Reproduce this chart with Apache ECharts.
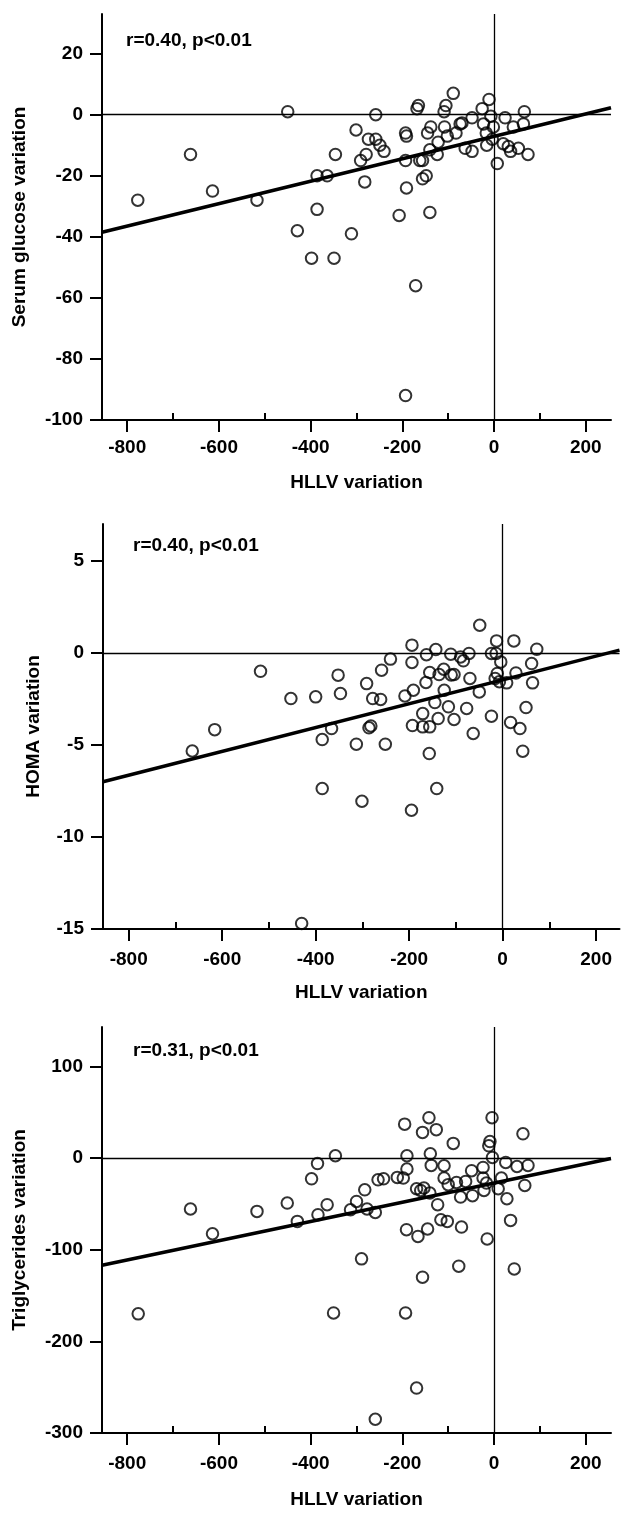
<!DOCTYPE html>
<html><head><meta charset="utf-8">
<script src="https://cdn.jsdelivr.net/npm/echarts@6/dist/echarts.min.js"></script>
<style>html,body{margin:0;padding:0;background:#fff}#c{width:626px;height:1513px}</style>
</head><body><div id="c"></div>
<script>
// ---- Data ----
const xTicks = [-800, -600, -400, -200, 0, 200];
const xMinorTicks = [-700, -500, -300, -100, 100];
const glucoseTicks = [20, 0, -20, -40, -60, -80, -100];
const homaTicks = [5, 0, -5, -10, -15];
const tgTicks = [100, 0, -100, -200, -300];

const hllvGlucose = [-777,-662,-614,-517,-450,-429,-386,-386,-364,-346,-311,-301,-291,-282,-279,-274,-258,-258,-249,-240,-207,-193,-191,-191,-193,-168,-165,-162,-156,-156,-148,-145,-140,-138,-140,-124,-122,-109,-108,-105,-102,-89,-83,-74,-70,-63,-48,-48,-26,-23,-17,-16,-11,-7,-4,-1.5,7,24,20,31,36,42,53,64,66,74,-398,-349,-171,-193];
const glucoseVar = [-28,-13,-25,-28,1,-38,-31,-20,-20,-13,-39,-5,-15,-22,-13,-8,0,-8,-10,-12,-33,-6,-7,-24,-15,2,3,-15,-15,-21,-20,-6,-32,-4,-11.5,-13,-9,1,-4,3,-7,7,-6,-3,-2.7,-11,-12,-1,2,-3,-6,-10,5,-0.5,-8,-4,-16,-1,-9.5,-10.4,-12,-4,-11,-3,1,-13,-47,-47,-56,-92];

const hllvHoma = [-49,-194,-13,24,73,-240,-194,-163,-143,-111,-90,-84,-72,-24,-14,-4,62,-518,-259,-156,-126,-136,-104,-110,-70,-11.5,-7,8.6,28.5,64,-16,-352,-291,-164,-125,-50,-453,-400,-347,-278,-261,-209,-191,-145,-116,-77,50,-171,-138,-104,-24,-193,-171,-156,17,37,-63,-282,-286,-366,-616,-664,-386,-313,-251,43,-157,-386,-141,-301,-195,-430];
const homaVar = [1.5,0.42,0.65,0.65,0.2,-0.34,-0.52,-0.1,0.18,-0.07,-0.22,-0.43,-0.03,-0.03,-0.03,-0.49,-0.58,-1.0,-0.94,-1.07,-0.89,-1.18,-1.18,-1.2,-1.39,-1.12,-1.57,-1.63,-1.09,-1.63,-1.39,-1.21,-1.67,-1.61,-2.03,-2.12,-2.48,-2.39,-2.21,-2.48,-2.53,-2.34,-2.03,-2.7,-2.93,-3.02,-2.97,-3.3,-3.57,-3.62,-3.44,-3.95,-4.02,-4.02,-3.78,-4.11,-4.38,-3.97,-4.07,-4.11,-4.17,-5.33,-4.71,-4.96,-4.96,-5.34,-5.47,-7.37,-7.37,-8.06,-8.55,-14.7];

const hllvTg = [-195,-142,-156,-126,-89,-4.4,63,-9,-11.5,-346,-385,-398,-190,-190,-139,-137,-109,-109,-100,-82,-62,-49,-24,-24,-3.5,-16.6,-22,16,25.5,50,74,67,9,28,36,-15,-71,-47,-73,-123,-116,-102,-145,-166,-191,-140,-153,-169,-160,-211,-198,-253,-241,-282,-300,-313,-277,-259,-364,-384,-429,-451,-517,-662,-614,-289,-77,44,-156,-776,-350,-193,-169,-259];
const tgVar = [37,44,28,31,16,44,26.5,18,13.4,2.5,-6,-22.6,2.5,-12,4.7,-8,-8.4,-21.8,-29,-26.6,-25.5,-13.8,-10.2,-21.8,0.7,-27.3,-35.3,-21.8,-4.8,-9.2,-8.1,-29.9,-33.5,-44.4,-68,-88.3,-75.3,-41.1,-42.6,-50.9,-67.3,-69.1,-77.4,-85.5,-78.2,-38.2,-32.7,-33.5,-35.3,-21.1,-21.8,-23.7,-22.6,-34.6,-47.3,-56.4,-55.6,-59.3,-50.9,-61.8,-69.1,-49.1,-58.2,-55.6,-82.6,-110,-118,-121,-130,-170,-169,-169,-251,-285];

// regression lines (endpoints)
const glucoseFitX = [-855, 255], glucoseFitY = [-38.5, 2.3];
const homaFitX = [-855, 250], homaFitY = [-7.0, 0.15];
const tgFitX = [-855, 255], tgFitY = [-117, -0.5];

const statLabels = ['r=0.40, p<0.01', 'r=0.40, p<0.01', 'r=0.31, p<0.01'];
const yNames = ['Serum glucose variation', 'HOMA variation', 'Triglycerides variation'];
const xName = 'HLLV variation';

// ---- Layout ----
const F = '"Liberation Sans", Arial, Helvetica, sans-serif';
const panels = [
  {grid:{left:102, top:14, width:509, height:406}, xmin:-855, xmax:255, ymin:-100, ymax:33, yTicks:glucoseTicks,
   xs:hllvGlucose, ys:glucoseVar, fx:glucoseFitX, fy:glucoseFitY, xm:18, xg:53, yg:73, lab:[126,41]},
  {grid:{left:103, top:524, width:516.5, height:405}, xmin:-855, xmax:250, ymin:-15, ymax:7, yTicks:homaTicks,
   xs:hllvHoma, ys:homaVar, fx:homaFitX, fy:homaFitY, xm:21, xg:54, yg:60, lab:[133,546]},
  {grid:{left:102, top:1027, width:509, height:406}, xmin:-855, xmax:255, ymin:-300, ymax:143, yTicks:tgTicks,
   xs:hllvTg, ys:tgVar, fx:tgFitX, fy:tgFitY, xm:21, xg:57, yg:73, lab:[133,1051]}
];

const black = '#000';
const txt = {color:black, fontSize:19, fontWeight:'bold', fontFamily:F};
const grids = [], xAxes = [], yAxes = [], series = [], graphics = [];
panels.forEach((p, i) => {
  grids.push(Object.assign({outerBoundsMode:'none', containLabel:false}, p.grid));
  xAxes.push({gridIndex:i, type:'value', min:p.xmin, max:p.xmax, position:'bottom',
    axisLine:{onZero:false, lineStyle:{color:black, width:2}},
    axisTick:{show:true, customValues:xTicks, length:12, lineStyle:{color:black, width:2}},
    axisLabel:Object.assign({customValues:xTicks, margin:p.xm}, txt),
    splitLine:{show:false},
    name:xName, nameLocation:'middle', nameGap:p.xg, nameTextStyle:txt});
  xAxes.push({gridIndex:i, type:'value', min:p.xmin, max:p.xmax, position:'bottom',
    axisLine:{show:false, onZero:false},
    axisTick:{show:true, inside:true, customValues:xMinorTicks, length:7, lineStyle:{color:black, width:2}},
    axisLabel:{show:false}, splitLine:{show:false}});
  yAxes.push({gridIndex:i, type:'value', min:p.ymin, max:p.ymax, position:'left',
    axisLine:{onZero:false, lineStyle:{color:black, width:2}},
    axisTick:{show:true, customValues:p.yTicks, length:12, lineStyle:{color:black, width:2}},
    axisLabel:Object.assign({customValues:p.yTicks, margin:19}, txt),
    splitLine:{show:false},
    name:yNames[i], nameLocation:'middle', nameGap:p.yg, nameTextStyle:txt});
  series.push({type:'scatter', xAxisIndex:2*i, yAxisIndex:i,
    data:p.xs.map((v, k) => [v, p.ys[k]]),
    symbol:'circle', symbolSize:11.5,
    itemStyle:{color:'rgba(0,0,0,0)', borderColor:black, borderWidth:2},
    markLine:{silent:true, symbol:['none','none'], label:{show:false},
      lineStyle:{color:black, width:1.3, type:'solid'},
      data:[{yAxis:0}, {xAxis:0}]},
    z:3});
  series.push({type:'line', xAxisIndex:2*i, yAxisIndex:i,
    data:p.fx.map((v, k) => [v, p.fy[k]]),
    symbol:'none', lineStyle:{color:black, width:3.5}, z:4});
  graphics.push({type:'text', x:p.lab[0], y:p.lab[1],
    style:{text:statLabels[i], fill:black, font:'bold 19px ' + F, textVerticalAlign:'middle', verticalAlign:'middle'}});
});

const chart = echarts.init(document.getElementById('c'), null, {renderer:'canvas'});
chart.setOption({
  animation:false, backgroundColor:'#fff',
  grid:grids, xAxis:xAxes, yAxis:yAxes, series:series, graphic:graphics
});
</script>
</body></html>
